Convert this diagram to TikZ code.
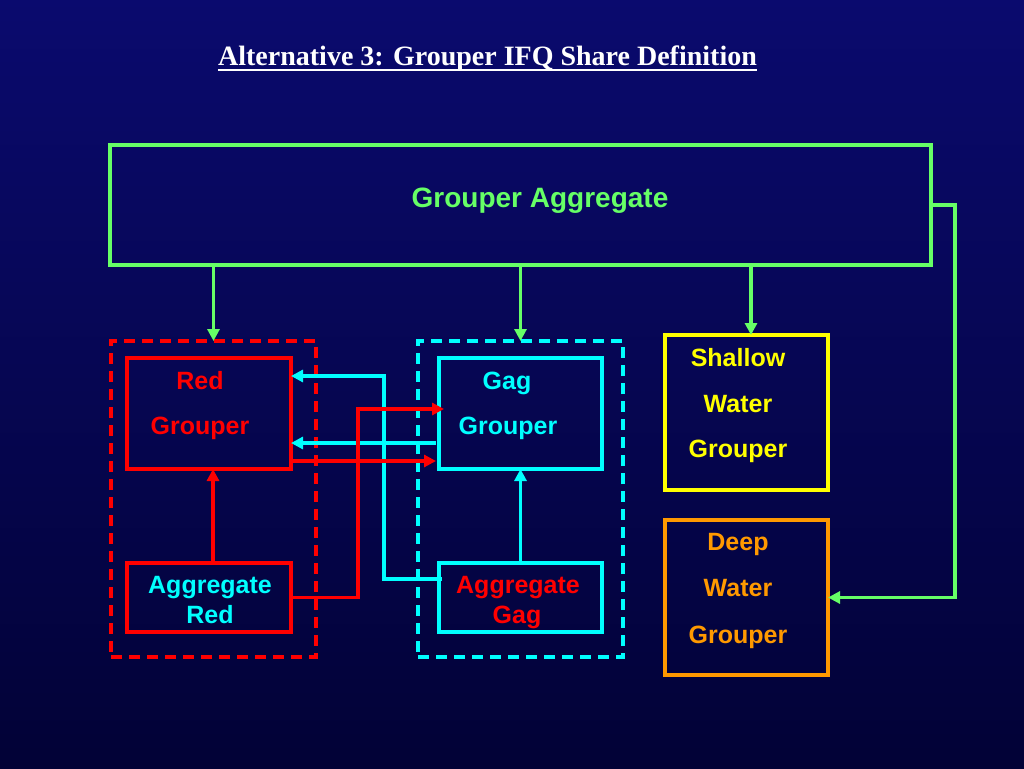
\documentclass[tikz,border=0pt]{standalone}
\usepackage{fontspec}
\setmainfont{Liberation Sans}
\newfontfamily\titlefont{Liberation Serif}
\usetikzlibrary{arrows.meta}
\definecolor{bgtop}{HTML}{0A0A6E}
\definecolor{bgbot}{HTML}{020236}
\definecolor{lgreen}{HTML}{66FF66}
\definecolor{pred}{HTML}{FF0000}
\definecolor{pcyan}{HTML}{00FFFF}
\definecolor{pyellow}{HTML}{FFFF00}
\definecolor{porange}{HTML}{FF9900}
\tikzset{
  box/.style={draw, line width=3.3pt, inner sep=0pt, outer sep=0pt},
  dashbox/.style={draw, line width=3.3pt, dash pattern=on 11pt off 7pt, inner sep=0pt, outer sep=0pt},
  lbl/.style={anchor=base, inner sep=0pt, font=\fontsize{25}{30}\selectfont\bfseries},
  conn/.style={line width=3.3pt, -{Triangle[length=12pt,width=12pt]}},
}
\begin{document}
\begin{tikzpicture}[x=1pt,y=-1pt]
\shade[top color=bgtop, bottom color=bgbot] (0,0) rectangle (1024,768);
\useasboundingbox (0,0) rectangle (1024,768);

% title
\node[anchor=base, inner sep=0pt, text=white, font=\titlefont\fontsize{28}{32}\selectfont\bfseries] (title) at (487.5,65) {Alternative 3: Grouper IFQ Share Definition};
\draw[white, line width=2pt] ([yshift=-5pt]title.base west) -- ([yshift=-5pt]title.base east);

% boxes
\node[box, lgreen, minimum width=821pt, minimum height=120pt] (agg) at (520.5,205) {};
\node[dashbox, pred, minimum width=205pt, minimum height=316pt] (reddash) at (213.5,499) {};
\node[dashbox, pcyan, minimum width=205pt, minimum height=316pt] (gagdash) at (520.5,499) {};
\node[box, pred, minimum width=164pt, minimum height=111pt] (redg) at (209,413.5) {};
\node[box, pred, minimum width=164pt, minimum height=69pt] (aggred) at (209,597.5) {};
\node[box, pcyan, minimum width=163pt, minimum height=111pt] (gagg) at (520.5,413.5) {};
\node[box, pcyan, minimum width=163pt, minimum height=69pt] (agggag) at (520.5,597.5) {};
\node[box, pyellow, minimum width=163pt, minimum height=155pt] (shallow) at (746.5,412.5) {};
\node[box, porange, minimum width=163pt, minimum height=155pt] (deep) at (746.5,597.5) {};

% texts
\node[lbl, text=lgreen, font=\fontsize{28}{32}\selectfont\bfseries] (taggr) at (540,207) {Grouper Aggregate};
\node[lbl, text=pred] (tred1) at (200,389) {Red};
\node[lbl, text=pred] (tred2) at (200,434) {Grouper};
\node[lbl, text=pcyan] (tgag1) at (507,389) {Gag};
\node[lbl, text=pcyan] (tgag2) at (508,434) {Grouper};
\node[lbl, text=pcyan] (tar1) at (210,593) {Aggregate};
\node[lbl, text=pcyan] (tar2) at (210,623) {Red};
\node[lbl, text=pred] (tag1) at (518,593) {Aggregate};
\node[lbl, text=pred] (tag2) at (517,623) {Gag};
\node[lbl, text=pyellow] (tsh1) at (738,366) {Shallow};
\node[lbl, text=pyellow] (tsh2) at (738,412) {Water};
\node[lbl, text=pyellow] (tsh3) at (738,457) {Grouper};
\node[lbl, text=porange] (tdp1) at (738,550) {Deep};
\node[lbl, text=porange] (tdp2) at (738,596) {Water};
\node[lbl, text=porange] (tdp3) at (738,643) {Grouper};

% green connectors
\draw[conn, lgreen] (reddash.north |- agg.south) -- (reddash.north);
\draw[conn, lgreen] (gagdash.north |- agg.south) -- (gagdash.north);
\draw[conn, lgreen] ([xshift=4.5pt]shallow.north |- agg.south) -- ([xshift=4.5pt]shallow.north);
\draw[conn, lgreen] (agg.east) -- ++(24,0) |- (deep.east);

% cyan connectors
\coordinate (cyc) at (384,376);
\draw[conn, pcyan] (agggag.north) -- (gagg.south);
\draw[conn, pcyan] ([xshift=3pt,yshift=18.5pt]agggag.west) -| (cyc) -- ([yshift=37.5pt]redg.east);
\draw[conn, pcyan] ([xshift=-3pt,yshift=-29.5pt]gagg.west) -- ([yshift=-29.5pt]redg.east);

% red connectors
\coordinate (rdc) at (358,409);
\draw[conn, pred] ([xshift=4pt]aggred.north) -- ([xshift=4pt]redg.south);
\draw[conn, pred] (aggred.east) -| (rdc) -- ([xshift=5pt,yshift=4.5pt]gagg.west);
\draw[conn, pred] ([yshift=-47.5pt]redg.east) -- ([xshift=-3pt,yshift=-47.5pt]gagg.west);
\end{tikzpicture}
\end{document}
